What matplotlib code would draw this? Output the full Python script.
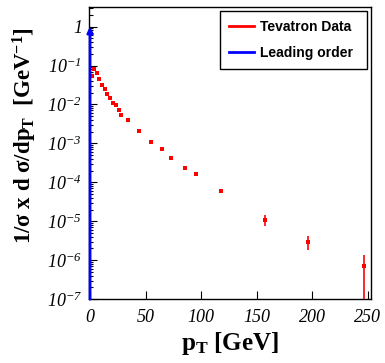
import matplotlib
matplotlib.use("Agg")
import matplotlib.pyplot as plt
from matplotlib.lines import Line2D
from matplotlib.ticker import LogLocator, FixedLocator, FuncFormatter, NullFormatter
import numpy as np

# Tevatron data points
pt = [1.5, 3.6, 6.0, 8.4, 10.8, 13.2, 15.6, 18.3, 21.0, 23.4, 26.1, 28.2,
      34.2, 44.4, 55.0, 64.6, 73.2, 85.6, 95.5, 117.7, 157.7, 196.1, 246.2]
xsec = [0.054, 0.082, 0.065, 0.046, 0.032, 0.025, 0.019, 0.0145, 0.011,
        0.0094, 0.0071, 0.0055, 0.0040, 0.0021, 0.0011, 7.2e-4, 4.1e-4,
        2.4e-4, 1.6e-4, 5.9e-5, 1.07e-5, 2.94e-6, 6.9e-7]
err_up = [0] * 20 + [3.4e-6, 1.16e-6, 6.5e-7]
err_dn = [0] * 20 + [3.1e-6, 1.07e-6, 6.83e-7]

# leading order: delta peak at pT = 0
lo_pt = 0.0
lo_val = 1.0

x_ticks = [0, 50, 100, 150, 200, 250]

plt.rcParams['mathtext.fontset'] = 'custom'
plt.rcParams['mathtext.rm'] = 'Liberation Serif:italic'
plt.rcParams['mathtext.it'] = 'Liberation Serif:italic'
plt.rcParams['mathtext.bf'] = 'Liberation Serif:bold'

fig = plt.figure(figsize=(3.85, 3.63), dpi=100)
ax = fig.add_axes([0.231, 0.176, 0.733, 0.805])

ax.errorbar(pt, xsec, yerr=[err_dn, err_up], fmt="s", color="red",
            markersize=3.3, elinewidth=1.2, capsize=2.2, capthick=1.2,
            markeredgewidth=0, zorder=3)

ax.annotate("", xy=(lo_pt, lo_val), xytext=(lo_pt, 1e-7),
            arrowprops=dict(arrowstyle="-|>", color="blue", lw=2,
                            mutation_scale=8, shrinkA=0, shrinkB=0),
            zorder=4, annotation_clip=False)

ax.set_yscale("log")
ax.set_xlim(-1, 253)
ax.set_ylim(1e-7, 3.2)

ax.xaxis.set_major_locator(FixedLocator(x_ticks))
ax.yaxis.set_major_locator(LogLocator(base=10, numticks=20))
ax.yaxis.set_minor_locator(LogLocator(base=10, subs=np.arange(2, 10), numticks=20))
ax.yaxis.set_minor_formatter(NullFormatter())

def ylab(v, pos):
    e = int(round(np.log10(v)))
    if e == 0:
        return "1"
    return "10$^{\\mathregular{-%d}}$" % (-e) if e < 0 else "10$^{%d}$" % e

ax.yaxis.set_major_formatter(FuncFormatter(ylab))

for lab in ax.get_xticklabels() + ax.get_yticklabels():
    lab.set_fontfamily("Liberation Serif")
    lab.set_fontstyle("italic")
    lab.set_fontsize(13)

ax.tick_params(axis="both", which="major", direction="in", length=6, width=0.8)
ax.tick_params(axis="y", which="minor", direction="in", length=3, width=0.8)
ax.tick_params(axis="x", which="major", pad=7)
ax.tick_params(axis="y", which="major", pad=5)
for s in ax.spines.values():
    s.set_linewidth(1.0)

ax.set_xlabel("p$_\\mathbf{T}$ [GeV]", fontfamily="Liberation Serif",
              fontweight="bold", fontsize=18)
ax.xaxis.set_label_coords(0.5, -0.105)
ax.set_ylabel("1/σ x d σ/dp$_\\mathbf{T}$  [GeV$^\\mathbf{-1}$]",
              fontfamily="Liberation Serif", fontweight="bold", fontsize=16.5)
ax.yaxis.set_label_coords(-0.228, 0.56)
ax.yaxis.label.set_verticalalignment("center")

handles = [Line2D([], [], color="red", lw=2), Line2D([], [], color="blue", lw=2)]
leg = ax.legend(handles, ["Tevatron Data", "Leading order"],
                loc="upper left", bbox_to_anchor=(0.465, 0.986, 0.521, 0.0),
                mode="expand", borderaxespad=0, borderpad=0.65,
                labelspacing=0.85, handlelength=1.8, handletextpad=0.4,
                fancybox=False, framealpha=1,
                prop={"family": "Liberation Sans", "weight": "bold", "size": 10})
leg.get_frame().set_edgecolor("black")
leg.get_frame().set_linewidth(1.0)

fig.savefig("out.png", dpi=100)
